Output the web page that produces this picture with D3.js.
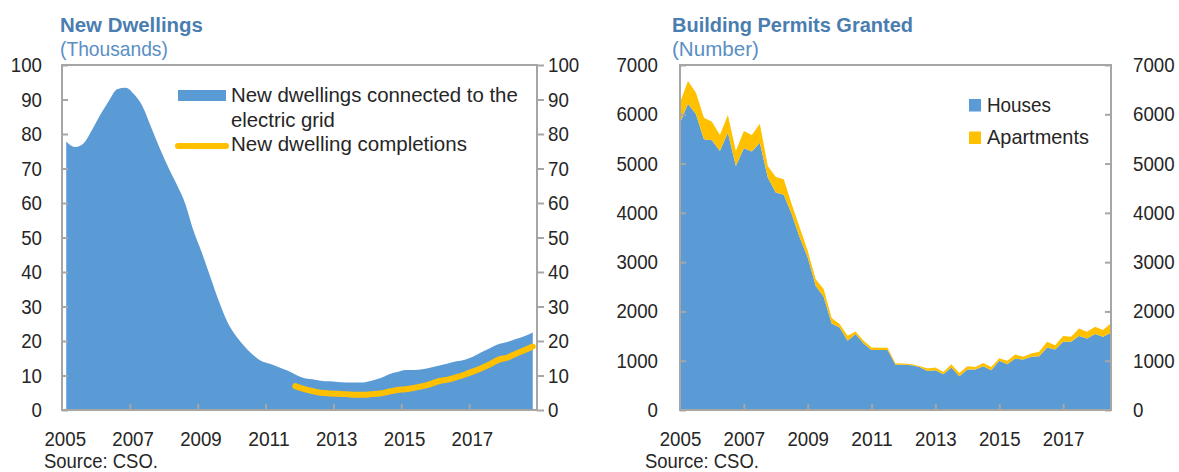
<!DOCTYPE html>
<html>
<head>
<meta charset="utf-8">
<script src="https://cdn.jsdelivr.net/npm/d3@7"></script>
<style>
  body { margin: 0; background: #fff; }
  svg { font-family: "Liberation Sans", Arial, sans-serif; }
  .tick text { font-size: 20.5px; fill: #262626; }
  .tick line { stroke: #a6a6a6; stroke-width: 2; }
  .domain { display: none; }
</style>
</head>
<body>
<div id="chart"></div>
<script>
// Left panel: quarterly, 2005Q1 - 2018Q4 (thousands)
var gridConnections = [77.8, 76.2, 77.2, 81, 85.5, 89.5, 93, 93.4, 91.5, 88, 82, 76,
  70.5, 65.5, 60, 52, 45.5, 38.5, 31.5, 25.5, 21.5, 18.5, 16, 14.2,
  13.4, 12.5, 11.5, 10.3, 9.3, 8.9, 8.5, 8.3, 8.1, 8.0, 8.0, 8.0,
  8.5, 9.2, 10.3, 11.0, 11.6, 11.6, 11.8, 12.3, 12.9, 13.5, 14.1, 14.6,
  15.5, 16.8, 18, 19.1, 19.7, 20.6, 21.4, 22.5];
// completions start 2011Q4
var completions = [6.9, 6.1, 5.5, 5.0, 4.8, 4.7, 4.6, 4.4, 4.4, 4.6, 4.8, 5.3, 5.8,
  6.0, 6.4, 6.9, 7.6, 8.4, 8.8, 9.5, 10.3, 11.2, 12.2, 13.3, 14.6,
  15.2, 16.3, 17.3, 18.4];
var completionsStart = 27;

// Right panel: quarterly, 2005Q1 - 2018Q3 (number)
var houses = [5830, 6215, 6000, 5493, 5473, 5256, 5627, 4952, 5311, 5243, 5425, 4716,
  4411, 4365, 3973, 3499, 3094, 2520, 2297, 1756, 1675, 1405, 1541, 1351,
  1216, 1216, 1216, 920, 920, 908, 874, 793, 806, 724, 861, 684,
  820, 820, 888, 806, 997, 929, 1044, 1024, 1078, 1092, 1269, 1228,
  1384, 1384, 1500, 1452, 1541, 1486, 1568];
var apartments = [407, 460, 438, 438, 377, 325, 359, 304, 351, 338, 385, 236,
  318, 318, 203, 203, 135, 135, 156, 109, 68, 101, 53, 54,
  54, 49, 49, 30, 22, 20, 21, 47, 55, 48, 68, 68,
  68, 54, 68, 68, 54, 68, 82, 54, 68, 88, 115, 88,
  116, 102, 156, 136, 149, 136, 190];

var yearTicks = [2005, 2007, 2009, 2011, 2013, 2015, 2017];
var leftTicks = [0, 10, 20, 30, 40, 50, 60, 70, 80, 90, 100];
var rightTicks = [0, 1000, 2000, 3000, 4000, 5000, 6000, 7000];

var blue = "#5b9bd5", gold = "#ffc000", titleBlue = "#4a7db0", subBlue = "#5a8fc4", axisGrey = "#a6a6a6";

var svg = d3.select("#chart").append("svg")
  .attr("width", 1179)
  .attr("height", 472);

// narrow a text horizontally around its anchor x so it spans width w
function fit(sel, w) {
  sel.each(function() {
    var x = +(this.getAttribute("x") || 0);
    var sx = w(this) / this.getComputedTextLength();
    this.setAttribute("transform", `translate(${x * (1 - sx)},0) scale(${sx},1)`);
  });
}

function label(x, y, txt, w, opts) {
  opts = opts || {};
  var t = svg.append("text").attr("x", x).attr("y", y)
    .attr("font-size", opts.size || 20.5)
    .attr("font-weight", opts.bold ? "bold" : null)
    .attr("fill", opts.fill || "#262626")
    .text(txt);
  fit(t, () => w);
  return t;
}

// ---------- Left panel ----------
var L = {x0: 62, x1: 537, y0: 65, y1: 410};
var xL = d3.scaleLinear().domain([2005, 2019]).range([L.x0, L.x1]);
var yL = d3.scaleLinear().domain([0, 100]).range([L.y1, L.y0]);

var gridData = gridConnections.map(function(v, i) { return {t: 2005 + (i + 0.5) / 4, v: v}; });
var compData = completions.map(function(v, i) { return {t: 2005 + (completionsStart + i + 0.5) / 4, v: v}; });

svg.append("path")
  .datum(gridData)
  .attr("fill", blue)
  .attr("d", d3.area().curve(d3.curveMonotoneX)
    .x(d => xL(d.t)).y0(yL(0)).y1(d => yL(d.v)));

svg.append("path")
  .datum(compData)
  .attr("fill", "none")
  .attr("stroke", gold)
  .attr("stroke-width", 6)
  .attr("stroke-linecap", "round")
  .attr("stroke-linejoin", "round")
  .attr("d", d3.line().curve(d3.curveMonotoneX).x(d => xL(d.t)).y(d => yL(d.v)));

svg.append("rect")
  .attr("x", L.x0).attr("y", L.y0)
  .attr("width", L.x1 - L.x0).attr("height", L.y1 - L.y0)
  .attr("fill", "none").attr("stroke", axisGrey).attr("stroke-width", 2);

svg.append("g")
  .attr("transform", `translate(${L.x0},0)`)
  .call(d3.axisLeft(yL).tickValues(leftTicks).tickSize(-6).tickPadding(20));

svg.append("g")
  .attr("transform", `translate(${L.x1},0)`)
  .call(d3.axisRight(yL).tickValues(leftTicks).tickSize(7).tickPadding(4));

var bottomL = svg.append("g")
  .attr("transform", `translate(0,${L.y1})`)
  .call(d3.axisBottom(xL).tickValues(yearTicks).tickFormat(d3.format("d")).tickSize(-6).tickPadding(21.5));
bottomL.selectAll(".tick text").attr("dx", 3);
bottomL.selectAll(".tick").filter(d => d === 2005).select("line").remove();

label(60, 32, "New Dwellings", 143, {bold: true, fill: titleBlue, size: 21});
label(60, 56, "(Thousands)", 108, {fill: subBlue});

// legend
svg.append("rect").attr("x", 178).attr("y", 90).attr("width", 48).attr("height", 11).attr("fill", blue);
label(231, 102, "New dwellings connected to the", 287);
label(231, 127, "electric grid", 104);
svg.append("line").attr("x1", 178).attr("x2", 226).attr("y1", 146).attr("y2", 146)
  .attr("stroke", gold).attr("stroke-width", 6).attr("stroke-linecap", "round");
label(231, 151, "New dwelling completions", 236);

label(44, 468, "Source: CSO.", 114, {size: 19.5});

// ---------- Right panel ----------
var R = {x0: 680, x1: 1111, y0: 65, y1: 410};
var xR = d3.scaleLinear().domain([2005, 2018.5]).range([R.x0, R.x1]);
var yR = d3.scaleLinear().domain([0, 7000]).range([R.y1, R.y0]);

var permitRows = houses.map(function(h, i) { return {t: 2005 + i / 4, houses: h, apartments: apartments[i]}; });
var stacked = d3.stack().keys(["houses", "apartments"])(permitRows);
var stackColors = {houses: blue, apartments: gold};

svg.selectAll(".permit")
  .data(stacked)
  .enter()
  .append("path")
  .attr("class", "permit")
  .attr("fill", d => stackColors[d.key])
  .attr("d", d3.area().x(d => xR(d.data.t)).y0(d => yR(d[0])).y1(d => yR(d[1])));

svg.append("rect")
  .attr("x", R.x0).attr("y", R.y0)
  .attr("width", R.x1 - R.x0).attr("height", R.y1 - R.y0)
  .attr("fill", "none").attr("stroke", axisGrey).attr("stroke-width", 2);

svg.append("g")
  .attr("transform", `translate(${R.x0},0)`)
  .call(d3.axisLeft(yR).tickValues(rightTicks).tickFormat(d3.format("d")).tickSize(-6).tickPadding(22));

svg.append("g")
  .attr("transform", `translate(${R.x1},0)`)
  .call(d3.axisRight(yR).tickValues(rightTicks).tickFormat(d3.format("d")).tickSize(-6).tickPadding(22));

var bottomR = svg.append("g")
  .attr("transform", `translate(0,${R.y1})`)
  .call(d3.axisBottom(xR).tickValues(yearTicks).tickFormat(d3.format("d")).tickSize(-6).tickPadding(21.5));
bottomR.selectAll(".tick").filter(d => d === 2005).select("line").remove();

label(672, 32, "Building Permits Granted", 241, {bold: true, fill: titleBlue, size: 21});
label(672, 56, "(Number)", 87, {fill: subBlue});

var legendR = [{name: "Houses", color: blue, w: 64}, {name: "Apartments", color: gold, w: 102}];
legendR.forEach(function(d, i) {
  svg.append("rect").attr("x", 969).attr("y", 99 + i * 32.5).attr("width", 12).attr("height", 12.5).attr("fill", d.color);
  label(987, 112.5 + i * 31.5, d.name, d.w);
});

label(645, 468, "Source: CSO.", 114, {size: 19.5});

// tick labels: about 10.4px per digit
fit(svg.selectAll(".tick text"), n => 10.4 * n.textContent.length);
</script>
</body>
</html>
